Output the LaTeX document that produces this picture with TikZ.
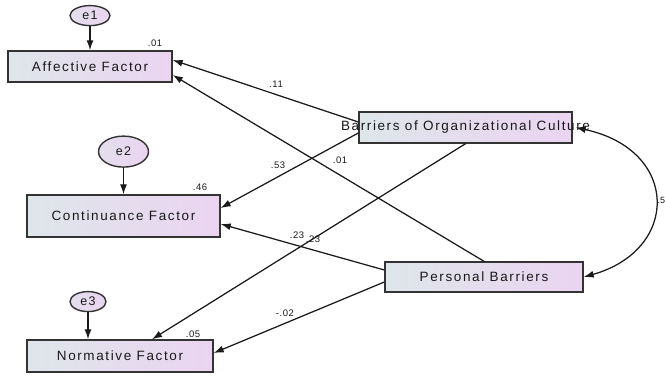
\documentclass[tikz,border=0pt]{standalone}
\usepackage{fontspec}
\setmainfont{Liberation Sans}
\newfontfamily\boxfont[LetterSpace=12]{Liberation Sans}
\newfontfamily\coeffont[LetterSpace=6]{Liberation Sans}
\usepackage{tikz}
\usetikzlibrary{positioning}
\usetikzlibrary{arrows.meta}
\usetikzlibrary{shapes.geometric}
\definecolor{shadeL}{HTML}{DEE6EA}
\definecolor{shadeR}{HTML}{EBD4F1}
\definecolor{edge}{HTML}{333333}
\definecolor{ink}{HTML}{1A1A1A}
\tikzset{
	observed/.style={draw=edge, rectangle, line width=1.4pt, inner sep=0pt, left color=shadeL, right color=shadeR, text=ink, font=\boxfont\fontsize{13.5}{15}\selectfont},
	error/.style={draw=edge, ellipse, line width=1.4pt, inner sep=0pt, left color=shadeL!60!shadeR, right color=shadeR, text=ink, font=\boxfont\fontsize{12.5}{14}\selectfont},
	% small path coefficients
	coef/.style={text=ink, inner sep=0pt, font=\coeffont\fontsize{9.5}{11}\selectfont},
}

\begin{document}
\begin{tikzpicture}[x=1pt, y=-1pt]
		\useasboundingbox (0,0) rectangle (665,378);
		
		\node (aff) [observed, minimum width=164pt, minimum height=31pt] at (90,66.5) {Affective Factor};
		\node (cont) [observed, minimum width=193pt, minimum height=42pt] at (123.5,216) {Continuance Factor};
		\node (norm) [observed, minimum width=186pt, minimum height=32pt] at (120,356) {Normative Factor};
		
		\node (boc) [observed, minimum width=213pt, minimum height=31pt] at (465.5,127.5) {};
		\node (boctext) [text=ink, font=\boxfont\fontsize{13.5}{15}\selectfont] at (boc) {Barriers of Organizational Culture};
		\node (pers) [observed, minimum width=198pt, minimum height=30pt] at (484,277) {Personal Barriers};
		
		\node (e1) [error, minimum width=40pt, minimum height=20pt, above=24pt of aff] {e1};
		\node (e2) [error, minimum width=50pt, minimum height=31pt, above=26.5pt of cont] {e2};
		\node (e3) [error, minimum width=36pt, minimum height=20pt, above=27pt of norm, xshift=-32pt] {e3};
		
		\begin{scope}[line width=1.25pt, ink, ->, >={Latex[length=10pt,width=7pt]}]
			\draw (e1) -- (aff);
			\draw (e2) -- (cont);
			\draw (e3) -- (e3 |- norm.north);
			\draw ([yshift=5.5pt]boc.west) -- ([yshift=6.5pt]aff.east);
			\draw (pers.north) -- ([yshift=-8.5pt]aff.east);
			\draw ([yshift=-5.5pt]boc.west) -- ([yshift=8pt]cont.east);
			\draw (boc.south) -- ([xshift=32pt]norm.north);
			\draw ([yshift=7pt]pers.west) -- ([yshift=-8pt]cont.east);
			\draw ([yshift=-5pt]pers.west) -- ([yshift=3pt]norm.east);
			\draw [<->] ([xshift=3pt]boc.east) .. controls (680,150) and (680,250) .. (pers.east);
		\end{scope}
		
		\node (r1) [coef] at (155,43) {.01};
		\node (r2) [coef] at (200,187) {.46};
		\node (r3) [coef] at (193,334) {.05};
		\node (b1) [coef] at (276,84) {.11};
		\node (b2) [coef] at (278,165) {.53};
		\node (b3) [coef] at (340,160) {.01};
		\node (b4) [coef] at (297,235) {.23};
		\node (b5) [coef] at (313,239) {.23};
		\node (b6) [coef] at (285,313) {-.02};
		\node (cov) [text=ink, inner sep=0pt, anchor=west, font=\fontsize{9}{10}\selectfont] at (657.5,200) {.5};
	\end{tikzpicture}
\end{document}
